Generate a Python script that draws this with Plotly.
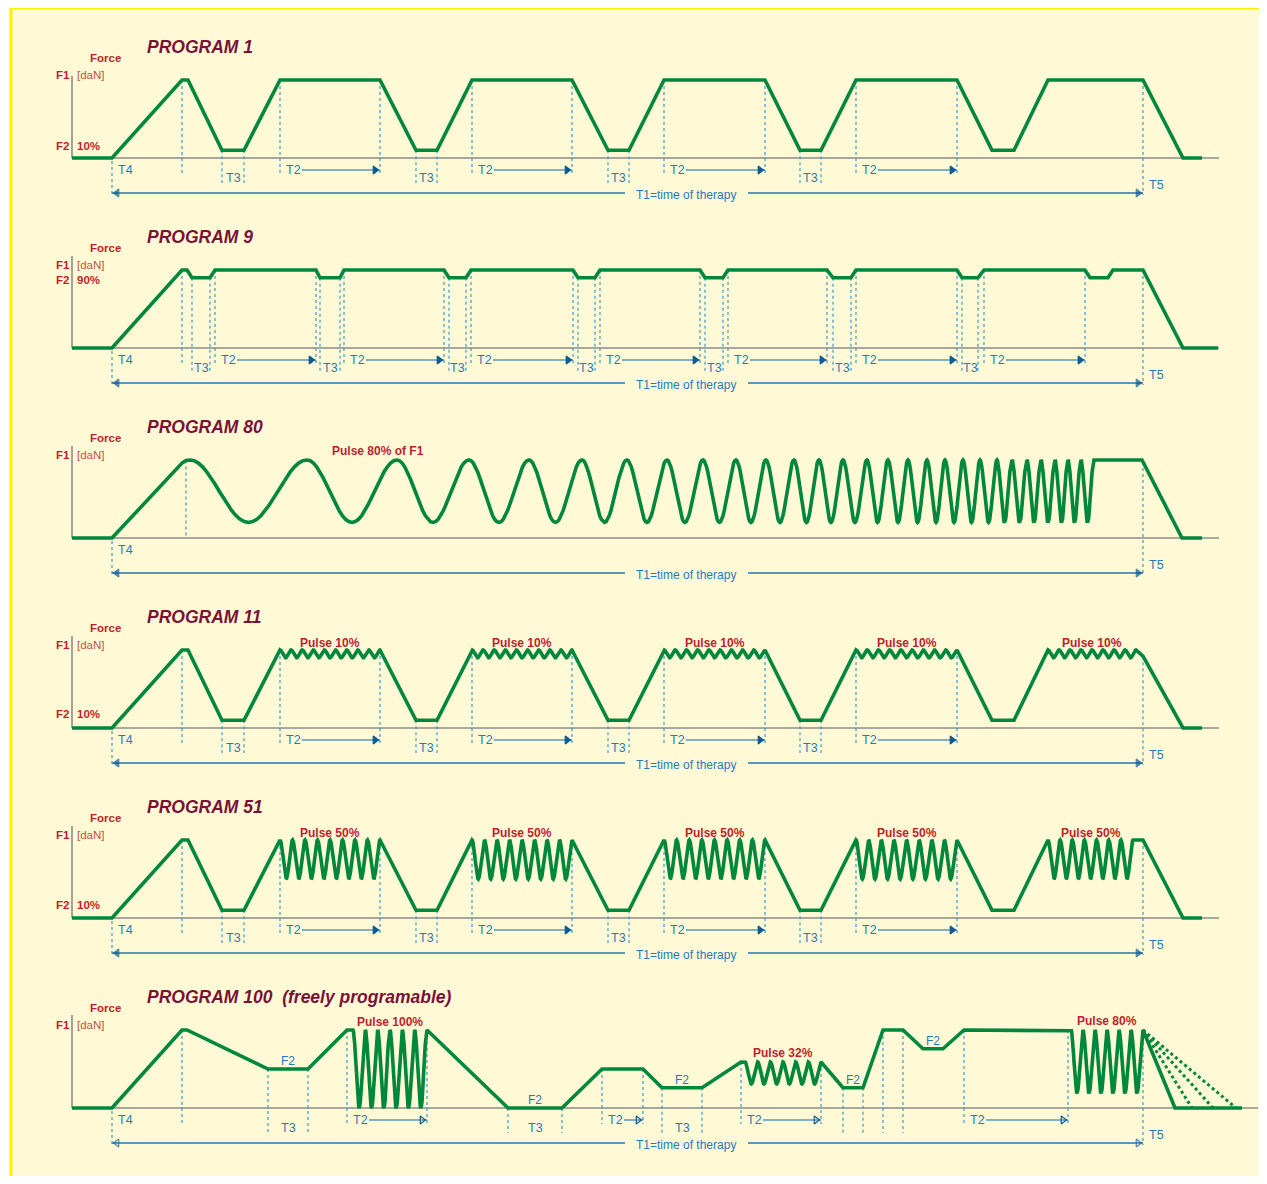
import numpy as np
import plotly.graph_objects as go

# ======================= DATA =======================
# time axis in arbitrary time units, force in % of F1
TITLES = ["PROGRAM 1", "PROGRAM 9", "PROGRAM 80", "PROGRAM 11", "PROGRAM 51",
          "PROGRAM 100  (freely programable)"]

# --- Program 1 ---
P1_T = [72, 112, 182, 188, 222, 244, 280, 380, 416, 437, 472, 572, 608, 629, 664, 765,
        800, 821, 856, 957, 992, 1014, 1048, 1143, 1183, 1202]
P1_F = [0, 0, 100, 100, 10, 10, 100, 100, 10, 10, 100, 100, 10, 10, 100, 100,
        10, 10, 100, 100, 10, 10, 100, 100, 0, 0]
P1_SHORT = [182, 280, 380, 472, 572, 664, 765, 856, 957]
P1_LONG = [222, 244, 416, 437, 608, 629, 800, 821]
P1_T3 = [(222, 244), (416, 437), (608, 629), (800, 821)]
P1_T2 = [(280, 380), (472, 572), (664, 765), (856, 957)]

# --- Program 9 ---
P9_T = [72, 112, 182, 187, 192, 210, 215, 316, 320, 340, 344, 444, 449, 466, 471, 573,
        578, 595, 600, 700, 705, 723, 728, 827, 833, 851, 856, 957, 962, 978, 984, 1085,
        1090, 1108, 1113, 1143, 1183, 1218]
P9_F = [0, 0, 100, 100, 90, 90, 100, 100, 90, 90, 100, 100, 90, 90, 100, 100,
        90, 90, 100, 100, 90, 90, 100, 100, 90, 90, 100, 100, 90, 90, 100, 100,
        90, 90, 100, 100, 0, 0]
P9_SHORT = [182, 215, 316, 344, 444, 471, 573, 600, 700, 728, 827, 856, 957, 984, 1085]
P9_LONG = [192, 210, 320, 340, 449, 466, 578, 595, 705, 723, 833, 851, 962, 978]
P9_T3 = [(192, 210), (320, 340), (449, 466), (578, 595), (705, 723), (833, 851), (962, 978)]
P9_T2 = [(215, 316), (344, 444), (471, 573), (600, 700), (728, 827), (856, 957), (984, 1085)]

# --- Program 80 (pulse 80% of F1, rising frequency) ---
P80_T = [72, 112, 182, 186, 190, 1094, 1142, 1182, 1202]
P80_F = [0, 0, 96, 99.5, 100, 100, 100, 0, 0]
P80_PEAKS = [190, 307, 397, 469, 529, 582, 627, 667, 703, 736, 766, 794, 819, 843, 867,
             888, 908, 927, 945, 963, 980, 997, 1012, 1027, 1041, 1055, 1068, 1081, 1094]
P80_DEPTH = 80

# --- Program 11 (pulse 10%) ---
P11_T = [72, 112, 182, 188, 222, 244, 280, 380, 416, 437, 472, 572, 608, 629, 664, 765,
         800, 821, 856, 957, 992, 1014, 1048, 1136, 1143, 1183, 1202]
P11_F = [0, 0, 100, 100, 10, 10, 100, 100, 10, 10, 100, 100, 10, 10, 100, 100,
         10, 10, 100, 100, 10, 10, 100, 100, 92, 0, 0]
P11_PULSE = [(280, 380, 9), (472, 572, 9), (664, 765, 9), (856, 957, 9), (1048, 1136, 8)]
P11_DEPTH = 10

# --- Program 51 (pulse 50%) ---
P51_T = [72, 112, 182, 188, 222, 244, 280, 380, 416, 437, 472, 572, 608, 629, 664, 765,
         800, 821, 856, 957, 992, 1014, 1048, 1133, 1143, 1183, 1202]
P51_F = [0, 0, 100, 100, 10, 10, 100, 100, 10, 10, 100, 100, 10, 10, 100, 100,
         10, 10, 100, 100, 10, 10, 100, 100, 100, 0, 0]
P51_PULSE = [(280, 380, 8), (472, 572, 8), (664, 765, 8), (856, 957, 8), (1048, 1133, 7)]
P51_DEPTH = 50

# --- Program 100 (freely programmable) ---
P100_T = [72, 112, 182, 187, 268, 308, 347, 353, 427, 508, 562, 602, 643, 662, 702, 741,
          745, 821, 843, 863, 883, 903, 923, 943, 964, 1071, 1143, 1175, 1242]
P100_F = [0, 0, 100, 100, 50, 50, 100, 100, 100, 0, 0, 50, 50, 26, 26, 59,
          59, 59, 26, 26, 100, 100, 76, 76, 100, 100, 100, 0, 0]
P100_PULSE = [(353, 427, 6, 100), (745, 821, 6, 28), (1071, 1143, 6, 81)]
P100_PULSE_TXT = ["Pulse 100%", "Pulse 32%", "Pulse 80%"]
P100_TAIL = [1192, 1213, 1236]
P100_SHORT = [182, 347, 427, 602, 643, 741, 821, 964, 1068]
P100_LONG = [268, 308, 508, 562, 662, 702, 843, 863, 883, 903]
P100_T3 = [(268, 308), (508, 562), (662, 702)]
P100_T2 = [(347, 427), (602, 643), (741, 821), (964, 1068)]
P100_F2 = [(268, 308), (508, 562), (662, 702), (843, 863), (923, 943)]

T_START, T_END = 112, 1143   # T4 start / T5 (end of therapy)

# ======================= STYLE / LAYOUT =======================
W, H = 1267, 1184
OFF = 8                                    # page body margin of the html
FW, FH = W - OFF, H - 2 * OFF              # figure size
PX = 0.78                                  # pixels per % of F1
BASELINES = [158, 348, 538, 728, 918, 1108]
GREEN = "#00873E"
MAROON = "#7A1238"
RED = "#BE1E2D"
RED2 = "#C0504D"
BLUE = "#1E7BBF"
DOT = "#3A9AD0"
T1C = "#5A98BA"
HEAD = "#0E5A96"
GRAY = "#8C8C8C"
FONT = "Arial, 'Liberation Sans', sans-serif"
TSZ = 12.5


def prow(p):
    """page pixel row -> paper y of the figure"""
    return 1 - (p - OFF) / FH


def pcol(p):
    return (p - OFF) / FW


def compose(bt, bf, pulses):
    pts = []
    for t, f in zip(bt, bf):
        if not any(a < t < b for a, b, *_ in pulses):
            pts.append((t, f))
    for a, b, n, d in pulses:
        lvl = float(np.interp(a, bt, bf))
        tt = np.linspace(a, b, int(n) * 28 + 1)
        ff = lvl - d * (1 - np.cos(2 * np.pi * n * (tt - a) / (b - a))) / 2
        pts.extend(zip(tt.tolist(), ff.tolist()))
    pts.sort(key=lambda p: p[0])
    return [p[0] for p in pts], [p[1] for p in pts]


P80_PULSE = [(a, b, 1, P80_DEPTH) for a, b in zip(P80_PEAKS[:-1], P80_PEAKS[1:])]

PROGRAMS = [
    dict(t=P1_T, f=P1_F, pulses=[], short=P1_SHORT, long=P1_LONG, base=[], t3=P1_T3, t2=P1_T2,
         levels=[("F1", "[daN]", 83, False), ("F2", "10%", 12, True)], axis_top=82, end=1219,
         plabels=[], f2=[], tail=[]),
    dict(t=P9_T, f=P9_F, pulses=[], short=P9_SHORT, long=P9_LONG, base=[], t3=P9_T3, t2=P9_T2,
         levels=[("F1", "[daN]", 83, False), ("F2", "90%", 68, True)], axis_top=92, end=1219,
         plabels=[], f2=[], tail=[]),
    dict(t=P80_T, f=P80_F, pulses=P80_PULSE, short=[], long=[], base=[186], t3=[], t2=[],
         levels=[("F1", "[daN]", 83, False)], axis_top=92, end=1219,
         plabels=[("Pulse 80% of F1", 378, 87)], f2=[], tail=[]),
    dict(t=P11_T, f=P11_F, pulses=[(a, b, n, P11_DEPTH) for a, b, n in P11_PULSE],
         short=P1_SHORT, long=P1_LONG, base=[], t3=P1_T3, t2=P1_T2,
         levels=[("F1", "[daN]", 83, False), ("F2", "10%", 14, True)], axis_top=92, end=1219,
         plabels=[("Pulse 10%", (a + b) / 2, 85) for a, b, n in P11_PULSE], f2=[], tail=[]),
    dict(t=P51_T, f=P51_F, pulses=[(a, b, n, P51_DEPTH) for a, b, n in P51_PULSE],
         short=P1_SHORT, long=P1_LONG, base=[], t3=P1_T3, t2=P1_T2,
         levels=[("F1", "[daN]", 83, False), ("F2", "10%", 13, True)], axis_top=92, end=1219,
         plabels=[("Pulse 50%", (a + b) / 2, 85) for a, b, n in P51_PULSE], f2=[], tail=[]),
    dict(t=P100_T, f=P100_F, pulses=P100_PULSE, short=P100_SHORT, long=P100_LONG, base=[],
         t3=P100_T3, t2=P100_T2, levels=[("F1", "[daN]", 83, False)], axis_top=93, end=1258,
         plabels=[(txt, (a + b) / 2, None) for txt, (a, b, n, d) in zip(P100_PULSE_TXT, P100_PULSE)],
         f2=P100_F2, tail=P100_TAIL, open_heads=True),
]

fig = go.Figure()
layout_axes = {}
ann = []


def Y(px):
    return px / PX


for k, P in enumerate(PROGRAMS):
    sfx = "" if k == 0 else str(k + 1)
    xa, ya = "x" + sfx, "y" + sfx
    B = BASELINES[k]
    layout_axes["xaxis" + sfx] = dict(domain=[0, 1], range=[OFF, W], visible=False,
                                      anchor=ya, fixedrange=True)
    layout_axes["yaxis" + sfx] = dict(domain=[prow(B + 50), prow(B - 140)],
                                      range=[-50 / PX, 140 / PX], visible=False,
                                      anchor=xa, fixedrange=True)
    ct, cf = compose(P["t"], P["f"], P["pulses"])

    def lvl(t):
        return float(np.interp(t, ct, cf))

    # axes lines
    fig.add_trace(go.Scatter(x=[72, 72, None, 72, P["end"]],
                             y=[Y(P["axis_top"]), 0, None, 0, 0], mode="lines",
                             line=dict(color=GRAY, width=1.6), xaxis=xa, yaxis=ya,
                             hoverinfo="skip", showlegend=False))
    # dotted verticals
    vx, vy = [], []
    for t in P["short"]:
        vx += [t, t, None]; vy += [lvl(t), Y(-16), None]
    for t in P["long"]:
        vx += [t, t, None]; vy += [lvl(t), Y(-25), None]
    for t in P["base"]:
        vx += [t, t, None]; vy += [lvl(t), 0, None]
    vx += [T_START, T_START, None, T_END, T_END]
    vy += [Y(-3), Y(-36), None, lvl(T_END), Y(-37)]
    fig.add_trace(go.Scatter(x=vx, y=vy, mode="lines",
                             line=dict(color=DOT, width=1.2, dash="dot"),
                             xaxis=xa, yaxis=ya, hoverinfo="skip", showlegend=False))
    # T1 arrow line
    fig.add_trace(go.Scatter(x=[T_START, 625, None, 748, T_END], y=[Y(-35)] * 5,
                             mode="lines", line=dict(color=T1C, width=2),
                             xaxis=xa, yaxis=ya, hoverinfo="skip", showlegend=False))
    openh = P.get("open_heads", False)
    hs = "-open" if openh else ""
    fig.add_trace(go.Scatter(x=[T_START + 5, T_END - 5], y=[Y(-35)] * 2, mode="markers",
                             marker=dict(symbol=["triangle-left" + hs, "triangle-right" + hs],
                                         size=[7, 7], color=HEAD, line=dict(color=HEAD, width=1.2)),
                             xaxis=xa, yaxis=ya, hoverinfo="skip", showlegend=False))
    ann.append(dict(x=686, y=Y(-37), xref=xa, yref=ya, text="T1=time of therapy",
                    showarrow=False, font=dict(size=12, color=BLUE, family=FONT)))
    # T2 arrows
    ax_, ay_ = [], []
    for a, b in P["t2"]:
        ax_ += [a + 22, b, None]; ay_ += [Y(-12), Y(-12), None]
        ann.append(dict(x=a + 4, y=Y(-12), xref=xa, yref=ya, text="T2", xanchor="left",
                        showarrow=False, font=dict(size=TSZ, color=BLUE, family=FONT)))
    if P["t2"]:
        fig.add_trace(go.Scatter(x=ax_, y=ay_, mode="lines", line=dict(color=T1C, width=1.6),
                                 xaxis=xa, yaxis=ya, hoverinfo="skip", showlegend=False))
        fig.add_trace(go.Scatter(x=[b - 5 for a, b in P["t2"]], y=[Y(-12)] * len(P["t2"]),
                                 mode="markers",
                                 marker=dict(symbol="triangle-right" + hs, size=7, color=HEAD,
                                             line=dict(color=HEAD, width=1.2)),
                                 xaxis=xa, yaxis=ya, hoverinfo="skip", showlegend=False))
    for a, b in P["t3"]:
        ann.append(dict(x=(a + b) / 2, y=Y(-20), xref=xa, yref=ya, text="T3",
                        showarrow=False, font=dict(size=TSZ, color=BLUE, family=FONT)))
    ann.append(dict(x=T_START + 4, y=Y(-12), xref=xa, yref=ya, text="T4", xanchor="left",
                    showarrow=False, font=dict(size=TSZ, color=BLUE, family=FONT)))
    ann.append(dict(x=T_END + 4, y=Y(-27), xref=xa, yref=ya, text="T5", xanchor="left",
                    showarrow=False, font=dict(size=TSZ, color=BLUE, family=FONT)))
    for a, b in P["f2"]:
        ann.append(dict(x=(a + b) / 2, y=lvl((a + b) / 2) + Y(8), xref=xa, yref=ya, text="F2",
                        showarrow=False, font=dict(size=12, color=BLUE, family=FONT)))
    # release alternatives (dotted)
    for te in P["tail"]:
        fig.add_trace(go.Scatter(x=[T_END, te], y=[100, 0], mode="lines",
                                 line=dict(color=GREEN, width=3, dash="dot"),
                                 xaxis=xa, yaxis=ya, hoverinfo="skip", showlegend=False))
    # main curve
    fig.add_trace(go.Scatter(x=ct, y=cf, mode="lines",
                             line=dict(color=GREEN, width=3.6),
                             xaxis=xa, yaxis=ya, hoverinfo="skip", showlegend=False))
    # texts
    ann.append(dict(x=145, y=Y(111), xref=xa, yref=ya, text="<b><i>%s</i></b>" % TITLES[k],
                    xanchor="left", showarrow=False,
                    font=dict(size=17.5, color=MAROON, family=FONT)))
    ann.append(dict(x=105, y=Y(100), xref=xa, yref=ya, text="<b>Force</b>", showarrow=False,
                    font=dict(size=11.5, color=RED, family=FONT)))
    for name, val, off, bold in P["levels"]:
        ann.append(dict(x=54, y=Y(off), xref=xa, yref=ya, text="<b>%s</b>" % name,
                        xanchor="left", showarrow=False,
                        font=dict(size=11.5, color=RED, family=FONT)))
        ann.append(dict(x=75, y=Y(off), xref=xa, yref=ya,
                        text=("<b>%s</b>" % val) if bold else val, xanchor="left",
                        showarrow=False,
                        font=dict(size=11.5, color=RED if bold else RED2, family=FONT)))
    for txt, x, off in P["plabels"]:
        if off is None:
            yy = max(lvl(t) for t in np.linspace(x - 30, x + 30, 60)) + Y(9)
        else:
            yy = Y(off)
        ann.append(dict(x=x, y=yy, xref=xa, yref=ya, text="<b>%s</b>" % txt,
                        showarrow=False, font=dict(size=12, color=RED, family=FONT)))

fig.update_layout(
    width=FW, height=FH, autosize=False,
    margin=dict(l=0, r=0, t=0, b=0),
    paper_bgcolor="#FAFAF5", plot_bgcolor="rgba(0,0,0,0)",
    showlegend=False, annotations=ann,
    shapes=[dict(type="rect", xref="paper", yref="paper", x0=pcol(11), x1=pcol(1262),
                 y0=-0.02, y1=prow(8), line=dict(color="#FFF200", width=3),
                 fillcolor="#FFFAD5", layer="below")],
    **layout_axes,
)
fig.write_html("out.html")
